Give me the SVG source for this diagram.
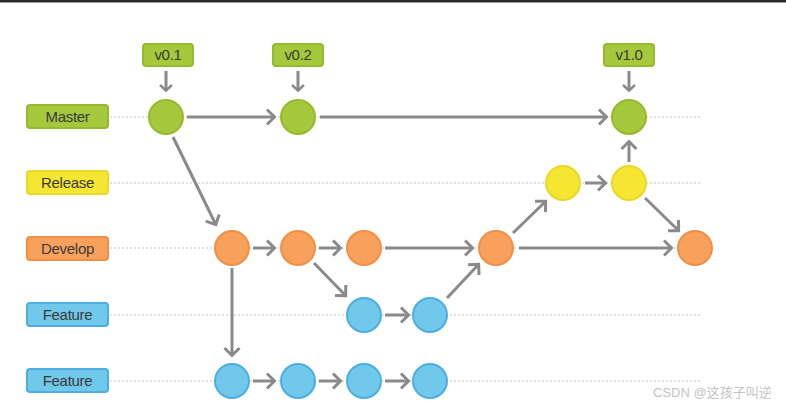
<svg xmlns="http://www.w3.org/2000/svg" width="786" height="407" viewBox="0 0 786 407">
<defs>
<style>
.lbl{font-family:"Liberation Sans",Arial,sans-serif;font-size:15px;letter-spacing:-0.3px;fill:#3a3a3a;text-anchor:middle}
.tag{font-family:"Liberation Sans",Arial,sans-serif;font-size:15px;letter-spacing:-0.3px;fill:#3a3a3a;text-anchor:middle}
.dot{stroke:#c4c4c4;stroke-width:1.2;stroke-dasharray:2 2;fill:none}
.c{stroke:#8a8a8a;stroke-width:3;fill:none}
.g{fill:#a5c83c;stroke:#94bb2c;stroke-width:2}
.y{fill:#f5e632;stroke:#e9d928;stroke-width:2}
.o{fill:#f7a15c;stroke:#f18f44;stroke-width:2}
.b{fill:#70c8ea;stroke:#4eaee2;stroke-width:2}
</style>
<marker id="ah" markerUnits="userSpaceOnUse" markerWidth="14" markerHeight="20" refX="10" refY="9" orient="auto">
<path d="M2,1.5 L9.5,9 L2,16.5" fill="none" stroke="#8a8a8a" stroke-width="3"/>
</marker>
<marker id="ahs" markerUnits="userSpaceOnUse" markerWidth="12" markerHeight="16" refX="8" refY="7" orient="auto">
<path d="M2,1 L7.5,7 L2,13" fill="none" stroke="#8a8a8a" stroke-width="2.5"/>
</marker>
</defs>
<rect width="786" height="407" fill="#ffffff"/>
<rect width="786" height="2.5" fill="#2a2a2a"/>

<g id="lanes">
<line class="dot" x1="110" y1="117" x2="700" y2="117"/>
<line class="dot" x1="110" y1="183" x2="700" y2="183"/>
<line class="dot" x1="110" y1="248" x2="700" y2="248"/>
<line class="dot" x1="110" y1="315" x2="700" y2="315"/>
<line class="dot" x1="110" y1="381" x2="700" y2="381"/>
</g>

<g id="label-master"><rect class="g" x="27" y="105" width="81" height="23" rx="3"/><text class="lbl" x="67.5" y="122">Master</text></g>
<g id="label-release"><rect class="y" x="27" y="171" width="81" height="23" rx="3"/><text class="lbl" x="67.5" y="188">Release</text></g>
<g id="label-develop"><rect class="o" x="27" y="237" width="81" height="23" rx="3"/><text class="lbl" x="67.5" y="254">Develop</text></g>
<g id="label-feature1"><rect class="b" x="27" y="303" width="81" height="23" rx="3"/><text class="lbl" x="67.5" y="320">Feature</text></g>
<g id="label-feature2"><rect class="b" x="27" y="369" width="81" height="23" rx="3"/><text class="lbl" x="67.5" y="386">Feature</text></g>

<g id="tag-v01"><rect class="g" x="143" y="44" width="50" height="22" rx="3"/><text class="tag" x="168" y="60">v0.1</text></g>
<g id="tag-v02"><rect class="g" x="273" y="44" width="50" height="22" rx="3"/><text class="tag" x="298" y="60">v0.2</text></g>
<g id="tag-v10"><rect class="g" x="604" y="44" width="50" height="22" rx="3"/><text class="tag" x="629" y="60">v1.0</text></g>

<g id="connectors">
<line class="c" x1="166" y1="71" x2="166" y2="91" marker-end="url(#ahs)"/>
<line class="c" x1="298" y1="71" x2="298" y2="91" marker-end="url(#ahs)"/>
<line class="c" x1="629" y1="71" x2="629" y2="91" marker-end="url(#ahs)"/>
<line class="c" x1="187" y1="117" x2="275" y2="117" marker-end="url(#ah)"/>
<line class="c" x1="320" y1="117" x2="607" y2="117" marker-end="url(#ah)"/>
<line class="c" x1="173" y1="137" x2="216" y2="225" marker-end="url(#ah)"/>
<line class="c" x1="253" y1="248" x2="275" y2="248" marker-end="url(#ah)"/>
<line class="c" x1="319" y1="248" x2="341" y2="248" marker-end="url(#ah)"/>
<line class="c" x1="385" y1="248" x2="473" y2="248" marker-end="url(#ah)"/>
<line class="c" x1="314" y1="263" x2="346" y2="296" marker-end="url(#ah)"/>
<line class="c" x1="232" y1="268" x2="232" y2="356" marker-end="url(#ah)"/>
<line class="c" x1="385" y1="315" x2="409" y2="315" marker-end="url(#ah)"/>
<line class="c" x1="447" y1="298" x2="479" y2="264" marker-end="url(#ah)"/>
<line class="c" x1="513" y1="233" x2="546" y2="201" marker-end="url(#ah)"/>
<line class="c" x1="585" y1="183" x2="606" y2="183" marker-end="url(#ah)"/>
<line class="c" x1="629" y1="162" x2="629" y2="141" marker-end="url(#ah)"/>
<line class="c" x1="645" y1="198" x2="679" y2="231" marker-end="url(#ah)"/>
<line class="c" x1="519" y1="248" x2="672" y2="248" marker-end="url(#ah)"/>
<line class="c" x1="253" y1="381" x2="275" y2="381" marker-end="url(#ah)"/>
<line class="c" x1="319" y1="381" x2="341" y2="381" marker-end="url(#ah)"/>
<line class="c" x1="385" y1="381" x2="409" y2="381" marker-end="url(#ah)"/>
</g>

<g id="m1"><circle class="g" cx="166" cy="117" r="17"/></g>
<g id="m2"><circle class="g" cx="298" cy="117" r="17"/></g>
<g id="m3"><circle class="g" cx="629" cy="117" r="17"/></g>
<g id="r1"><circle class="y" cx="563" cy="183" r="17"/></g>
<g id="r2"><circle class="y" cx="629" cy="183" r="17"/></g>
<g id="d1"><circle class="o" cx="232" cy="248" r="17"/></g>
<g id="d2"><circle class="o" cx="298" cy="248" r="17"/></g>
<g id="d3"><circle class="o" cx="364" cy="248" r="17"/></g>
<g id="d4"><circle class="o" cx="496" cy="248" r="17"/></g>
<g id="d5"><circle class="o" cx="695" cy="248" r="17"/></g>
<g id="f1a"><circle class="b" cx="364" cy="315" r="17"/></g>
<g id="f1b"><circle class="b" cx="430" cy="315" r="17"/></g>
<g id="f2a"><circle class="b" cx="232" cy="381" r="17"/></g>
<g id="f2b"><circle class="b" cx="298" cy="381" r="17"/></g>
<g id="f2c"><circle class="b" cx="364" cy="381" r="17"/></g>
<g id="f2d"><circle class="b" cx="430" cy="381" r="17"/></g>

<text x="653" y="397" font-family="'Liberation Sans','Noto Sans CJK SC',sans-serif" font-size="13" fill="#c4c4c4">CSDN @这孩子叫逆</text>
</svg>
